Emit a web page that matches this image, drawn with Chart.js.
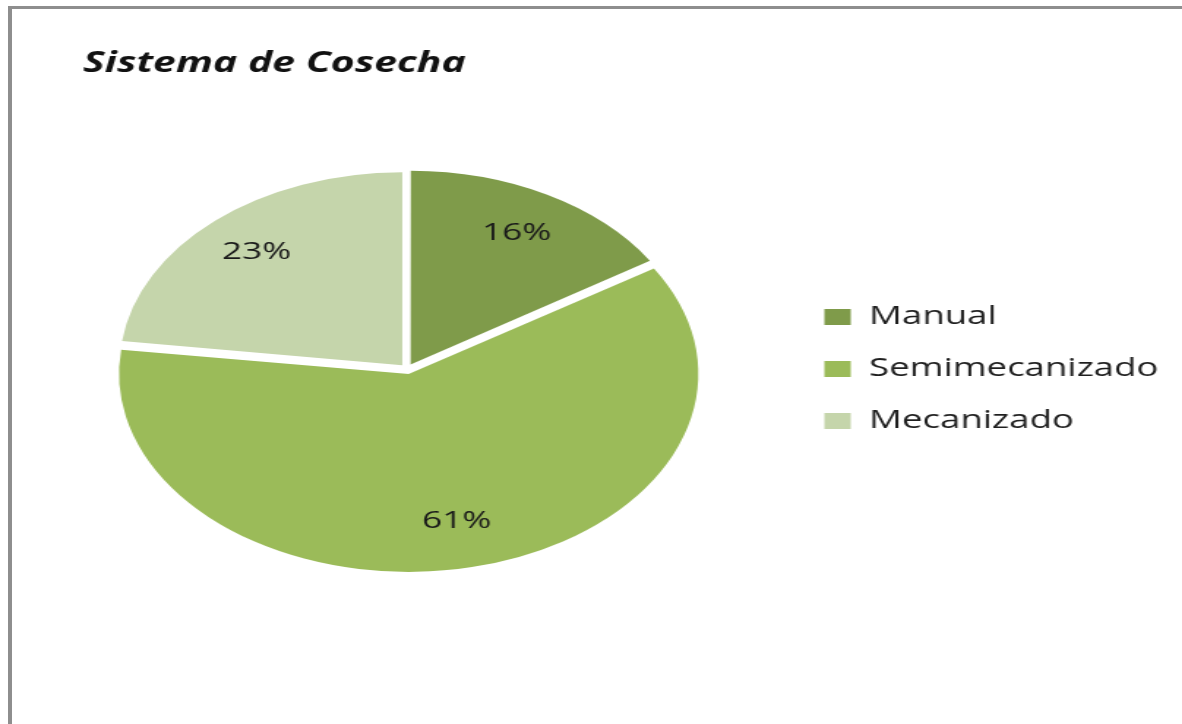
<!DOCTYPE html>
<html>
<head>
<meta charset="utf-8">
<script src="https://cdn.jsdelivr.net/npm/chart.js@4.4.1/dist/chart.umd.min.js"></script>
<style>
  html, body { margin: 0; padding: 0; background: #fff; overflow: hidden; }
  body { width: 1182px; height: 724px; position: relative; }
  #frame {
    position: absolute; left: 8px; top: 6px; right: -20px; bottom: -20px;
    border-left: 4px solid #8e8e8e; border-top: 3px solid #8e8e8e;
  }
  /* the original picture is stretched sideways, so the chart is drawn narrow and widened */
  #wrap {
    position: absolute; left: 0; top: 0; width: 808px; height: 724px;
    transform: scaleX(1.463); transform-origin: 0 0;
  }
</style>
</head>
<body>
<div id="frame"></div>
<div id="wrap"><canvas id="myChart"></canvas></div>
<script>
const chartTitle = "Sistema de Cosecha";
const labels = ["Manual", "Semimecanizado", "Mecanizado"];
const values = [16, 61, 23];
const colors = ["#7f9b4a", "#9bbb59", "#c5d5ab"];

const W = 808;
const S = 1.463;
const fontFamily = '"Open Sans", "Liberation Sans", sans-serif';
const legendFont = 25;
const legendPad = 27;
const legendBox = 18;
const sliceOffset = 20; // chart.js draws offset/4

// work out right padding so the legend starts where it does in the picture
const mctx = document.createElement("canvas").getContext("2d");
mctx.font = legendFont + "px " + fontFamily;
let maxText = 0;
labels.forEach(function (l) { maxText = Math.max(maxText, mctx.measureText(l).width); });
const legendLeft = 535.5;
const legendWidth = legendPad + legendBox + legendFont / 2 + maxText + 11;
const padRight = Math.max(0, W - legendLeft - legendWidth);

const total = values.reduce(function (a, b) { return a + b; }, 0);

const sliceLabels = {
  id: "sliceLabels",
  afterDatasetsDraw(chart) {
    const ctx = chart.ctx;
    const meta = chart.getDatasetMeta(0);
    ctx.save();
    ctx.font = "24px " + fontFamily;
    ctx.fillStyle = "#1a1a1a";
    ctx.textAlign = "center";
    ctx.textBaseline = "middle";
    meta.data.forEach(function (arc, i) {
      const p = arc.getProps(["x", "y", "startAngle", "endAngle", "outerRadius"], true);
      const mid = (p.startAngle + p.endAngle) / 2;
      const r = p.outerRadius * 0.8 + 1;
      const txt = Math.round(values[i] / total * 100) + "%";
      ctx.fillText(txt, p.x + Math.cos(mid) * r, p.y + Math.sin(mid) * r);
    });
    ctx.restore();
  }
};

const titleDraw = {
  id: "titleDraw",
  afterDraw(chart) {
    const ctx = chart.ctx;
    ctx.save();
    ctx.font = "italic bold 28px " + fontFamily;
    ctx.fillStyle = "#111";
    ctx.textAlign = "left";
    ctx.textBaseline = "alphabetic";
    ctx.fillText(chartTitle, 83 / S, 72);
    ctx.restore();
  }
};

const charts = document.getElementById("myChart");

const data = {
  labels: labels,
  datasets: [{
    data: values,
    backgroundColor: colors,
    borderWidth: 0,
    hoverBorderWidth: 0,
    offset: sliceOffset,
    hoverOffset: sliceOffset
  }]
};

const config = {
  type: "pie",
  data: data,
  options: {
    responsive: true,
    maintainAspectRatio: false,
    animation: false,
    events: [],
    layout: {
      padding: { left: 20, right: padRight, top: 166, bottom: 152 }
    },
    plugins: {
      title: { display: false },
      tooltip: { enabled: false },
      legend: {
        display: true,
        position: "right",
        labels: {
          boxWidth: legendBox,
          boxHeight: 16,
          padding: legendPad,
          color: "#1f1f1f",
          font: { family: fontFamily, size: legendFont }
        }
      }
    }
  },
  plugins: [sliceLabels, titleDraw]
};

const pieChart = new Chart(charts, config);
</script>
</body>
</html>
